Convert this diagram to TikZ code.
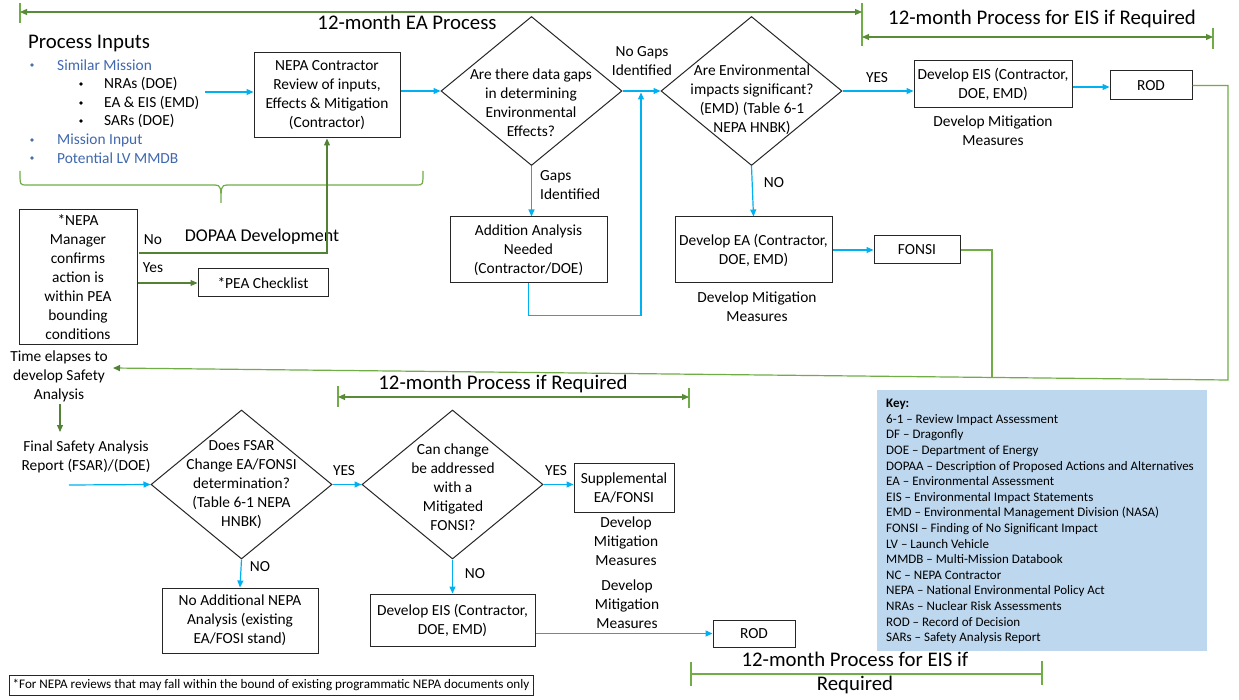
\documentclass[tikz,border=0pt]{standalone}
\usepackage{fontspec}
\setmainfont{Carlito}
\usetikzlibrary{shapes.geometric,arrows.meta}
\definecolor{bluearr}{HTML}{00B0F0}
\definecolor{garr}{HTML}{548235}
\definecolor{glin}{HTML}{70AD47}
\definecolor{bultxt}{HTML}{4068AE}
\definecolor{keyfill}{HTML}{BDD7EE}
\definecolor{boxline}{HTML}{262626}
\newcommand\mainf{\fontsize{15.4}{19}\selectfont}
\newcommand\bigf{\fontsize{20.8}{24}\selectfont}
\newcommand\midf{\fontsize{18}{22}\selectfont}
\newcommand\keyf{\fontsize{13}{15.6}\selectfont}
\newcommand\footf{\fontsize{13.1}{15}\selectfont}
\begin{document}
\begin{tikzpicture}[x=1pt,y=-1pt,
  box/.style={draw=boxline, line width=1pt, inner sep=0pt, align=center, font=\mainf},
  dia/.style={diamond, draw=boxline, line width=1pt, inner sep=0pt},
  txt/.style={inner sep=1pt, align=center, font=\mainf},
  bul/.style={circle, inner sep=0pt, minimum size=3.6pt},
  big/.style={inner sep=1pt, align=center, font=\bigf},
  barr/.style={draw=bluearr, line width=1.2pt, -{Triangle[length=7pt,width=6pt]}},
  garrow/.style={draw=garr, line width=1.1pt, -{Triangle[length=7pt,width=6pt]}},
  gline/.style={draw=glin, line width=1.2pt},
  dimarr/.style={draw=garr!80!glin, line width=1.1pt, {Triangle[length=7pt,width=6pt]}-{Triangle[length=7pt,width=6pt]}},
  tick/.style={draw=glin, line width=1.1pt}
]
\useasboundingbox (0,0) rectangle (1239,700);
\fill[white] (0,0) rectangle (1239,700);

% ---------- dimension lines ----------
\draw[tick] (20,3) -- (20,23);
\draw[tick] (862,3) -- (862,46);
\draw[dimarr] (20,12) -- (862,12);
\node[big] (t1) at (407,22) {12-month EA Process};
\draw[tick] (1213,28) -- (1213,49);
\draw[dimarr] (862,37) -- (1213,37);
\node[big] (t2) at (1042,19) {12-month Process for EIS if Required};

\draw[tick] (338,386) -- (338,407);
\draw[tick] (689,388) -- (689,408);
\draw[dimarr] (338,397) -- (689,397);
\node[big] (t3) at (503,384) {12-month Process if Required};

\draw[tick] (691,662) -- (691,686);
\draw[tick] (1042,661) -- (1042,685);
\draw[tick] (691,674) -- (1042,674);
\node[inner sep=1pt, align=center, font=\fontsize{20.8}{24}\selectfont] (t4) at (855,673) {12-month Process for EIS if\\Required};

% ---------- process inputs ----------
\node[big, anchor=west] (pin) at (27,44) {Process Inputs};
\node[bul, fill=bultxt!80!gray] (b1) at (32,65) {};
\node[txt, anchor=west, text=bultxt] (s1) at (56,65) {Similar Mission};
\node[bul, fill=black] (b2) at (81,84) {};
\node[txt, anchor=west] (s2) at (103,84) {NRAs (DOE)};
\node[bul, fill=black] (b3) at (81,103) {};
\node[txt, anchor=west] (s3) at (103,103) {EA \& EIS (EMD)};
\node[bul, fill=black] (b4) at (81,121) {};
\node[txt, anchor=west] (s4) at (103,121) {SARs (DOE)};
\node[bul, fill=bultxt!80!gray] (b5) at (32,140) {};
\node[txt, anchor=west, text=bultxt] (s5) at (56,140) {Mission Input};
\node[bul, fill=bultxt!80!gray] (b6) at (32,158) {};
\node[txt, anchor=west, text=bultxt] (s6) at (56,158) {Potential LV MMDB};
\draw[gline] (20,171) .. controls (20,185) and (20,185) .. (26,185) -- (215,185)
  .. controls (221,185) and (221,188) .. (221,203)
  .. controls (221,188) and (221,185) .. (227,185) -- (417,185)
  .. controls (423,185) and (423,185) .. (423,171);

% ---------- top row ----------
\node[box, minimum width=146, minimum height=85] (rev) at (327,95.5) {NEPA Contractor\\Review of inputs,\\Effects \& Mitigation\\(Contractor)};
\node[dia, minimum width=181, minimum height=149] (d1) at (531.5,91) {};
\node[txt] (d1t) at (531,103) {Are there data gaps\\in determining\\Environmental\\Effects?};
\node[box, minimum width=157, minimum height=66] (add) at (528.5,250) {Addition Analysis\\Needed\\(Contractor/DOE)};
\node[dia, minimum width=181, minimum height=149] (d2) at (751.5,91) {};
\node[txt] (d2t) at (752,99.5) {Are Environmental\\impacts significant?\\(EMD) (Table 6-1\\NEPA HNBK)};
\node[box, minimum width=158, minimum height=47] (eis) at (993,84.5) {Develop EIS (Contractor,\\DOE, EMD)};
\node[txt] (eism) at (993,130.5) {Develop Mitigation\\Measures};
\node[box, minimum width=82, minimum height=29] (rod) at (1151,85.5) {ROD};
\node[box, minimum width=157, minimum height=66] (ea) at (753.5,250) {Develop EA (Contractor,\\DOE, EMD)};
\node[txt] (eam) at (757,306.5) {Develop Mitigation\\Measures};
\node[box, minimum width=86, minimum height=28] (fonsi) at (917,250) {FONSI};

\node[txt] (ngl) at (642,61) {No Gaps\\Identified};
\node[txt, anchor=west, align=left] (gl) at (539,185.5) {Gaps\\Identified};
\node[txt] (yes1) at (877,78) {YES};
\node[txt] (no1) at (774,183) {NO};

\coordinate (in1) at (205,92);
\draw[barr] (in1) -- (in1 -| rev.west);
\draw[barr] (rev.east |- d1.west) -- (d1.west);
\draw[barr] (d1.east) -- (d2.west);
\draw[barr] (d1.south) -- (d1.south |- add.north);
\coordinate (j1) at (641,92.5);
\draw[barr] (add.south) -- ++(0,32) -| (j1);
\draw[barr] (d2.east) -- (d2.east -| eis.west);
\draw[barr] (eis.east |- 0,87) -- (rod.west |- 0,87);
\draw[barr] (d2.south) -- (ea.north);
\draw[barr] (ea.east) -- (fonsi.west);

% ---------- manager ----------
\node[box, minimum width=118, minimum height=135] (mgr) at (78,277.5) {*NEPA\\Manager\\confirms\\action is\\within PEA\\bounding\\conditions};
\node[box, minimum width=130, minimum height=28] (pea) at (263,283) {*PEA Checklist};
\node[txt] (nol) at (153,240) {No};
\node[txt] (yesl) at (153,268) {Yes};
\node[inner sep=1pt, font=\midf] (dop) at (262,237) {DOPAA Development};
\coordinate (nopt) at (139,253);
\draw[garrow] (nopt) -| (rev.south);
\draw[garrow] (mgr.east |- pea.west) -- (pea.west);

% ---------- feedback line ----------
\node[txt] (tel) at (59,376) {Time elapses to\\develop Safety\\Analysis};
\coordinate (tarr) at (113,368);
\coordinate (rc) at (1228,380);
\draw[gline, -{Triangle[length=7pt,width=6pt,color=garr]}] (rod.east) -| (rc) -- (tarr);
\draw[gline] (fonsi.east) -| (992,377.5);

% ---------- bottom row ----------
\node[txt] (fsar) at (86,456.5) {Final Safety Analysis\\Report (FSAR)/(DOE)};
\draw[garrow] (60,404) -- (60,432);
\node[dia, minimum width=181, minimum height=149] (d3) at (241.5,484.5) {};
\node[txt] (d3t) at (241.5,485) {Does FSAR\\Change EA/FONSI\\determination?\\(Table 6-1 NEPA\\HNBK)};
\node[dia, minimum width=181, minimum height=149] (d4) at (452.5,484.5) {};
\node[txt] (d4t) at (453,487.5) {Can change\\be addressed\\with a\\Mitigated\\FONSI?};
\node[box, minimum width=100, minimum height=49] (supp) at (624,487.5) {Supplemental\\EA/FONSI};
\node[txt] (suppm) at (626,541) {Develop\\Mitigation\\Measures};
\node[box, minimum width=156, minimum height=65] (noadd) at (240,620.5) {No Additional NEPA\\Analysis (existing\\EA/FOSI stand)};
\node[box, minimum width=165, minimum height=52] (eis2) at (452.5,620) {Develop EIS (Contractor,\\DOE, EMD)};
\node[txt] (eis2m) at (627,604.5) {Develop\\Mitigation\\Measures};
\node[box, minimum width=82, minimum height=27] (rod2) at (754,633.5) {ROD};
\node[txt] (yes2) at (344,471) {YES};
\node[txt] (yes3) at (556,471) {YES};
\node[txt] (no2) at (260,567) {NO};
\node[txt] (no3) at (475,574) {NO};

\coordinate (in2) at (69,485);
\draw[barr] (in2) -- (d3.west);
\draw[barr] (d3.east) -- (d4.west);
\draw[barr] (d4.east) -- (d4.east -| supp.west);
\draw[barr] (d3.south) -- (noadd.north);
\draw[barr] (d4.south) -- (eis2.north);
\draw[barr] (eis2.east |- rod2.west) -- (rod2.west);

% ---------- key ----------
\node[fill=keyfill, minimum width=330, minimum height=261, inner sep=0pt] (key) at (1042,520.5) {};
\node[anchor=north west, align=left, inner sep=0pt, font=\keyf] (keyt) at (886,399) {\textbf{Key:}\\
6-1 – Review Impact Assessment\\
DF – Dragonfly\\
DOE – Department of Energy\\
DOPAA – Description of Proposed Actions and Alternatives\\
EA – Environmental Assessment\\
EIS – Environmental Impact Statements\\
EMD – Environmental Management Division (NASA)\\
FONSI – Finding of No Significant Impact\\
LV – Launch Vehicle\\
MMDB – Multi-Mission Databook\\
NC – NEPA Contractor\\
NEPA – National Environmental Policy Act\\
NRAs – Nuclear Risk Assessments\\
ROD – Record of Decision\\
SARs – Safety Analysis Report};

% ---------- footnote ----------
\node[draw=boxline, line width=0.9pt, minimum width=524, minimum height=20, inner sep=0pt, font=\footf] (foot) at (271,685) {*For NEPA reviews that may fall within the bound of existing programmatic NEPA documents only};
\end{tikzpicture}
\end{document}
